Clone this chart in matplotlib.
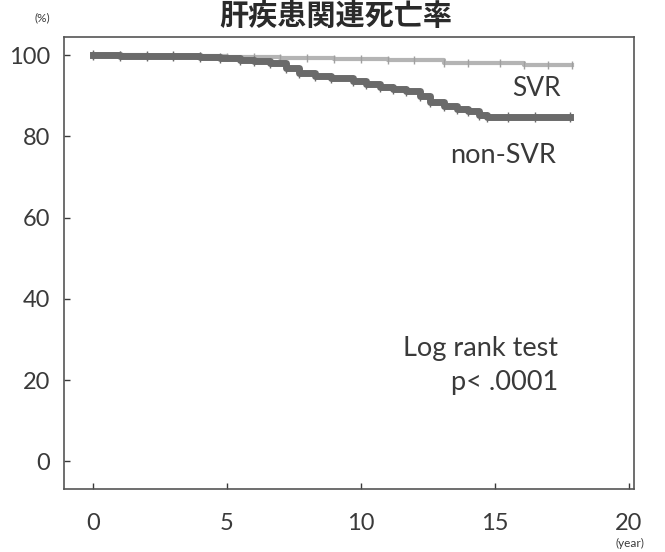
import matplotlib.pyplot as plt

plt.rcParams['font.family'] = ['Lato', 'Noto Sans CJK JP', 'DejaVu Sans']

# Kaplan-Meier style curves
svr_years = [0, 1, 2, 3, 4, 5, 6, 7, 8, 9, 10, 11, 12, 13.1, 14, 15.2, 16.1, 17, 17.9]
svr_pct = [100, 100, 99.9, 99.8, 99.7, 99.6, 99.5, 99.4, 99.3, 99.2, 99.0, 98.9, 98.8, 98.0, 98.0, 98.0, 97.5, 97.5, 97.5]

nonsvr_years = [0, 1, 2, 3, 4, 4.75, 5.5, 6, 6.6, 7.2, 7.7, 8.3, 8.9, 9.7, 10.2, 10.7, 11.2, 11.7,
                12.2, 12.6, 13.1, 13.6, 14.0, 14.4, 14.7, 15.5, 16.5, 17.8]
nonsvr_pct = [100, 99.9, 99.8, 99.7, 99.5, 99.3, 98.9, 98.5, 98.0, 96.8, 95.6, 95.0, 94.3, 93.6,
              93.0, 92.3, 91.7, 91.1, 89.9, 88.6, 87.4, 86.8, 86.2, 85.4, 84.7, 84.7, 84.7, 84.7]

x_ticks = [0, 5, 10, 15, 20]
y_ticks = [0, 20, 40, 60, 80, 100]

text_color = '#3a3a3a'

fig = plt.figure(figsize=(6.65, 5.52), dpi=100)
ax = fig.add_axes([64 / 665, 1 - 489 / 552, (634 - 64) / 665, (489 - 37) / 552])

ax.step(svr_years, svr_pct, where='post', color='#b4b4b4', linewidth=3)
ax.plot(svr_years, svr_pct, linestyle='none', marker='|', color='#a0a0a0', markersize=6)
ax.step(nonsvr_years, nonsvr_pct, where='post', color='#6a6a6a', linewidth=5)
ax.plot(nonsvr_years, nonsvr_pct, linestyle='none', marker='|', color='#6a6a6a', markersize=7)

ax.set_xlim(-1.08, 20.2)
ax.set_ylim(-6.8, 104.5)
ax.set_xticks(x_ticks)
ax.set_yticks(y_ticks)
ax.tick_params(axis='both', labelsize=17, colors=text_color, length=4, width=1)
ax.tick_params(axis='x', direction='in', pad=17)
ax.tick_params(axis='y', direction='in', pad=10)
for s in ax.spines.values():
    s.set_color('#555555')
    s.set_linewidth(1.2)

ax.text(17.46, 91.9, 'SVR', fontsize=19, color=text_color, ha='right', va='center')
ax.text(17.27, 75.3, 'non-SVR', fontsize=19.5, color=text_color, ha='right', va='center')
ax.text(17.35, 27.7, 'Log rank test', fontsize=19.5, color=text_color, ha='right', va='center')
ax.text(17.35, 19.5, 'p< .0001', fontsize=19.5, color=text_color, ha='right', va='center')

fig.text(336 / 665, 1 - 16 / 552, '肝疾患関連死亡率', fontsize=21, color='#2a2a2a',
         ha='center', va='center', family=['Noto Sans CJK JP', 'DejaVu Sans'], fontweight='bold')
fig.text(42 / 665, 1 - 18 / 552, '(%)', fontsize=8.5, color=text_color, ha='center', va='center')
fig.text(630 / 665, 1 - 543 / 552, '(year)', fontsize=8.5, color=text_color, ha='center', va='center')

fig.savefig('out.png', dpi=100, facecolor='white')
